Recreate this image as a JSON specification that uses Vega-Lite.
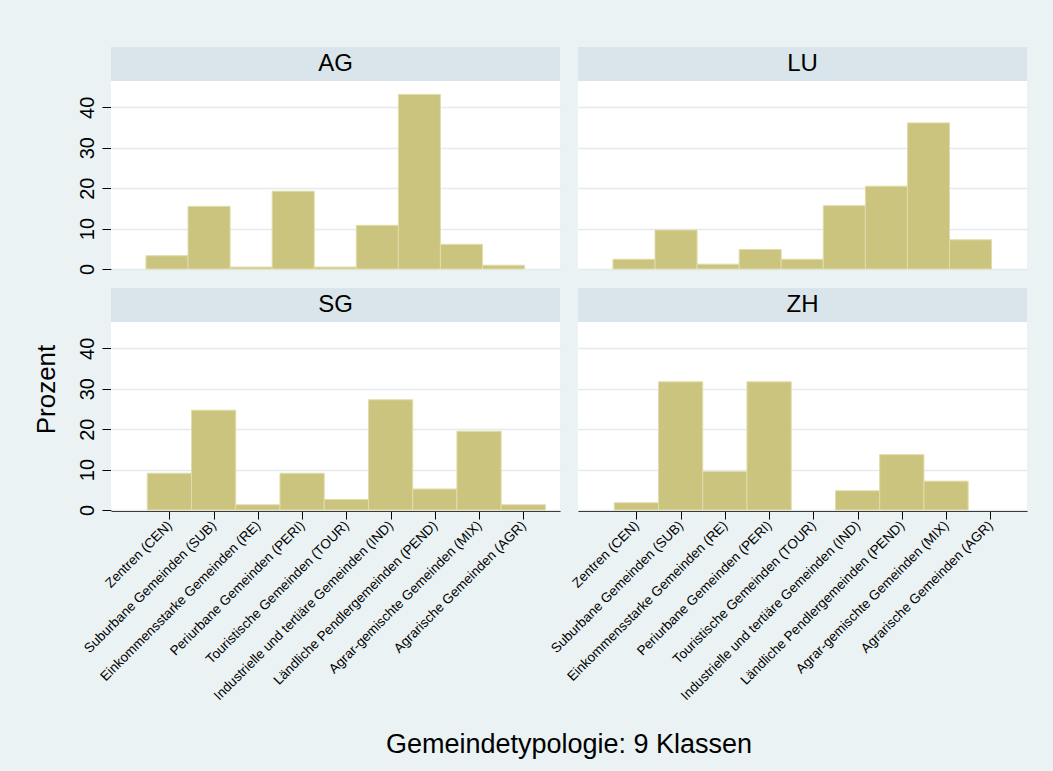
{
  "$schema": "https://vega.github.io/schema/vega-lite/v6.json",
  "background": "#eaf2f3",
  "padding": {"left": 34, "top": 47, "right": 32, "bottom": 20},
  "title": {"text": "Prozent", "orient": "left", "anchor": "middle", "fontSize": 26, "font": "Liberation Sans", "fontWeight": "normal", "color": "#000000", "offset": 17, "dx": 13},
  "data": {"values": [
    {"kanton": "AG", "typ": 1, "start": 0.470, "end": 1.421, "prozent": 3.29},
    {"kanton": "AG", "typ": 2, "start": 1.421, "end": 2.372, "prozent": 15.49},
    {"kanton": "AG", "typ": 3, "start": 2.372, "end": 3.323, "prozent": 0.47},
    {"kanton": "AG", "typ": 4, "start": 3.323, "end": 4.274, "prozent": 19.25},
    {"kanton": "AG", "typ": 5, "start": 4.274, "end": 5.225, "prozent": 0.47},
    {"kanton": "AG", "typ": 6, "start": 5.225, "end": 6.176, "prozent": 10.80},
    {"kanton": "AG", "typ": 7, "start": 6.176, "end": 7.127, "prozent": 43.19},
    {"kanton": "AG", "typ": 8, "start": 7.127, "end": 8.078, "prozent": 6.10},
    {"kanton": "AG", "typ": 9, "start": 8.078, "end": 9.029, "prozent": 0.94},
    {"kanton": "LU", "typ": 1, "start": 0.470, "end": 1.421, "prozent": 2.41},
    {"kanton": "LU", "typ": 2, "start": 1.421, "end": 2.372, "prozent": 9.64},
    {"kanton": "LU", "typ": 3, "start": 2.372, "end": 3.323, "prozent": 1.20},
    {"kanton": "LU", "typ": 4, "start": 3.323, "end": 4.274, "prozent": 4.82},
    {"kanton": "LU", "typ": 5, "start": 4.274, "end": 5.225, "prozent": 2.41},
    {"kanton": "LU", "typ": 6, "start": 5.225, "end": 6.176, "prozent": 15.66},
    {"kanton": "LU", "typ": 7, "start": 6.176, "end": 7.127, "prozent": 20.48},
    {"kanton": "LU", "typ": 8, "start": 7.127, "end": 8.078, "prozent": 36.14},
    {"kanton": "LU", "typ": 9, "start": 8.078, "end": 9.029, "prozent": 7.23},
    {"kanton": "SG", "typ": 1, "start": 0.5, "end": 1.5, "prozent": 9.09},
    {"kanton": "SG", "typ": 2, "start": 1.5, "end": 2.5, "prozent": 24.68},
    {"kanton": "SG", "typ": 3, "start": 2.5, "end": 3.5, "prozent": 1.30},
    {"kanton": "SG", "typ": 4, "start": 3.5, "end": 4.5, "prozent": 9.09},
    {"kanton": "SG", "typ": 5, "start": 4.5, "end": 5.5, "prozent": 2.60},
    {"kanton": "SG", "typ": 6, "start": 5.5, "end": 6.5, "prozent": 27.27},
    {"kanton": "SG", "typ": 7, "start": 6.5, "end": 7.5, "prozent": 5.19},
    {"kanton": "SG", "typ": 8, "start": 7.5, "end": 8.5, "prozent": 19.48},
    {"kanton": "SG", "typ": 9, "start": 8.5, "end": 9.5, "prozent": 1.30},
    {"kanton": "ZH", "typ": 1, "start": 0.5, "end": 1.5, "prozent": 1.79},
    {"kanton": "ZH", "typ": 2, "start": 1.5, "end": 2.5, "prozent": 31.7},
    {"kanton": "ZH", "typ": 3, "start": 2.5, "end": 3.5, "prozent": 9.52},
    {"kanton": "ZH", "typ": 4, "start": 3.5, "end": 4.5, "prozent": 31.7},
    {"kanton": "ZH", "typ": 5, "start": 4.5, "end": 5.5, "prozent": 0},
    {"kanton": "ZH", "typ": 6, "start": 5.5, "end": 6.5, "prozent": 4.76},
    {"kanton": "ZH", "typ": 7, "start": 6.5, "end": 7.5, "prozent": 13.69},
    {"kanton": "ZH", "typ": 8, "start": 7.5, "end": 8.5, "prozent": 7.14},
    {"kanton": "ZH", "typ": 9, "start": 8.5, "end": 9.5, "prozent": 0}
  ]},
  "columns": 2,
  "spacing": {"row": 18, "column": 18},
  "facet": {
    "field": "kanton", "type": "nominal", "title": "Gemeindetypologie: 9 Klassen",
    "header": {"labels": false, "labelExpr": "''", "labelFontSize": 0, "labelPadding": 0, "titleOrient": "bottom", "titleFontSize": 27, "titleFont": "Liberation Sans", "titleFontWeight": "normal", "titleColor": "#000000", "titlePadding": 29}
  },
  "spec": {
    "width": 449,
    "height": 188,
    "layer": [
      {
        "transform": [{"filter": "datum.prozent > 0"}],
        "mark": {"type": "rect", "fill": "#cbc47e", "stroke": "#e2dcaa", "strokeWidth": 1},
        "encoding": {
          "x": {"field": "start", "type": "quantitative",
                "scale": {"domain": [-0.32, 9.83], "nice": false, "zero": false},
                "axis": {"title": null, "values": [1, 2, 3, 4, 5, 6, 7, 8, 9], "grid": false, "zindex": 1,
                         "labelExpr": "['Zentren (CEN)', 'Suburbane Gemeinden (SUB)', 'Einkommensstarke Gemeinden (RE)', 'Periurbane Gemeinden (PERI)', 'Touristische Gemeinden (TOUR)', 'Industrielle und tertiäre Gemeinden (IND)', 'Ländliche Pendlergemeinden (PEND)', 'Agrar-gemischte Gemeinden (MIX)', 'Agrarische Gemeinden (AGR)'][datum.value - 1]",
                         "labelAngle": -45, "labelAlign": "right", "labelBaseline": "middle", "labelFontSize": 13.5, "labelLimit": 0,
                         "labelFont": "Liberation Sans", "labelColor": "#000000", "labelPadding": 4, "tickSize": 8,
                         "tickColor": "#000000", "domainColor": "#000000", "labelOverlap": false, "labelBound": false, "labelFlush": false}},
          "x2": {"field": "end"},
          "y": {"field": "prozent", "type": "quantitative",
                "scale": {"domain": [0, 46.5], "nice": false},
                "axis": {"title": null, "values": [0, 10, 20, 30, 40], "grid": true, "gridColor": "#e3ebee", "gridWidth": 1.5,
                         "labelAngle": 270, "labelAlign": "center", "labelBaseline": "bottom", "labelFontSize": 20,
                         "labelFont": "Liberation Sans", "labelColor": "#000000", "labelPadding": 5, "tickSize": 9,
                         "tickColor": "#000000", "domainColor": "#000000"}},
          "y2": {"datum": 0}
        }
      },
      {
        "transform": [{"aggregate": [{"op": "count", "as": "n"}], "groupby": ["kanton"]}],
        "mark": {"type": "rect", "fill": "#d9e5ea", "clip": false},
        "encoding": {
          "x": {"datum": -0.32, "type": "quantitative"},
          "x2": {"datum": 9.83},
          "y": {"datum": 46.5, "type": "quantitative"},
          "y2": {"datum": 54.9}
        }
      },
      {
        "transform": [{"aggregate": [{"op": "count", "as": "n"}], "groupby": ["kanton"]}],
        "mark": {"type": "text", "fontSize": 24, "font": "Liberation Sans", "color": "#000000", "baseline": "middle", "align": "center"},
        "encoding": {
          "x": {"datum": 4.755, "type": "quantitative"},
          "y": {"datum": 50.7, "type": "quantitative"},
          "text": {"field": "kanton", "type": "nominal"}
        }
      }
    ]
  },
  "config": {
    "view": {"stroke": null, "fill": "#ffffff"},
    "headerFacet": {"labels": false}
  }
}
